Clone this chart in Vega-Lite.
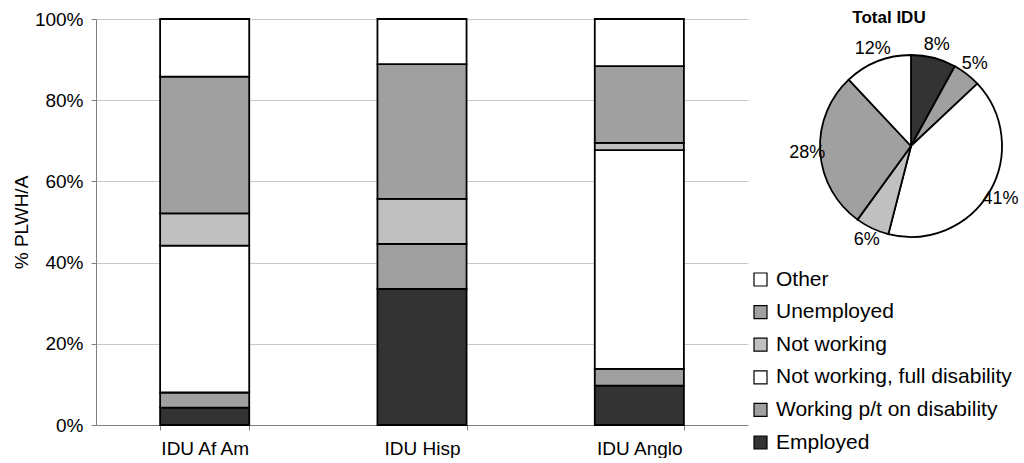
{
  "$schema": "https://vega.github.io/schema/vega-lite/v6.json",
  "padding": {"left": 12, "top": 9, "right": 0, "bottom": 0},
  "spacing": 41,
  "background": "white",
  "config": {
    "view": {"stroke": null},
    "font": "Liberation Sans",
    "axis": {"labelFont": "Liberation Sans", "titleFont": "Liberation Sans", "labelColor": "black", "titleColor": "black", "labelFontSize": 19, "titleFontSize": 19, "titleFontWeight": "normal"}
  },
  "datasets": {
    "bars": [
      {"group": "IDU Af Am", "status": "Employed", "seq": 1, "value": 4.3},
      {"group": "IDU Af Am", "status": "Working p/t on disability", "seq": 2, "value": 3.7},
      {"group": "IDU Af Am", "status": "Not working, full disability", "seq": 3, "value": 36.2},
      {"group": "IDU Af Am", "status": "Not working", "seq": 4, "value": 7.9},
      {"group": "IDU Af Am", "status": "Unemployed", "seq": 5, "value": 33.7},
      {"group": "IDU Af Am", "status": "Other", "seq": 6, "value": 14.2},
      {"group": "IDU Hisp", "status": "Employed", "seq": 1, "value": 33.5},
      {"group": "IDU Hisp", "status": "Working p/t on disability", "seq": 2, "value": 11.1},
      {"group": "IDU Hisp", "status": "Not working, full disability", "seq": 3, "value": 0},
      {"group": "IDU Hisp", "status": "Not working", "seq": 4, "value": 11.1},
      {"group": "IDU Hisp", "status": "Unemployed", "seq": 5, "value": 33.2},
      {"group": "IDU Hisp", "status": "Other", "seq": 6, "value": 11.1},
      {"group": "IDU Anglo", "status": "Employed", "seq": 1, "value": 9.7},
      {"group": "IDU Anglo", "status": "Working p/t on disability", "seq": 2, "value": 4.1},
      {"group": "IDU Anglo", "status": "Not working, full disability", "seq": 3, "value": 53.9},
      {"group": "IDU Anglo", "status": "Not working", "seq": 4, "value": 1.8},
      {"group": "IDU Anglo", "status": "Unemployed", "seq": 5, "value": 18.9},
      {"group": "IDU Anglo", "status": "Other", "seq": 6, "value": 11.6}
    ],
    "pie": [
      {"status": "Employed", "seq": 1, "share": 0.08},
      {"status": "Working p/t on disability", "seq": 2, "share": 0.05},
      {"status": "Not working, full disability", "seq": 3, "share": 0.41},
      {"status": "Not working", "seq": 4, "share": 0.06},
      {"status": "Unemployed", "seq": 5, "share": 0.28},
      {"status": "Other", "seq": 6, "share": 0.12}
    ]
  },
  "hconcat": [
    {
      "width": 652,
      "height": 406,
      "data": {"name": "bars"},
      "mark": {"type": "bar", "stroke": "black", "strokeWidth": 1.8},
      "encoding": {
        "x": {
          "field": "group", "type": "nominal",
          "sort": ["IDU Af Am", "IDU Hisp", "IDU Anglo"],
          "scale": {"paddingInner": 0.59, "paddingOuter": 0.295},
          "axis": {"title": null, "labelAngle": 0, "tickBand": "extent", "tickSize": 5, "tickColor": "#808080", "domainColor": "#808080", "labelPadding": 9}
        },
        "y": {
          "field": "value", "type": "quantitative", "stack": "normalize",
          "scale": {"domain": [0, 1]},
          "axis": {"title": "% PLWH/A", "format": ".0%", "values": [0, 0.2, 0.4, 0.6, 0.8, 1], "grid": true, "gridColor": "#c8c8c8", "tickSize": 5, "tickColor": "#808080", "domainColor": "#808080", "labelPadding": 8, "titlePadding": 3}
        },
        "order": {"field": "seq", "type": "quantitative"},
        "color": {
          "field": "status", "type": "nominal",
          "scale": {
            "domain": ["Other", "Unemployed", "Not working", "Not working, full disability", "Working p/t on disability", "Employed"],
            "range": ["#ffffff", "#a0a0a0", "#c0c0c0", "#ffffff", "#a0a0a0", "#333333"]
          },
          "legend": {
            "title": null, "orient": "none", "legendX": 654, "legendY": 250,
            "symbolType": "square", "symbolSize": 169, "symbolStrokeColor": "black", "symbolStrokeWidth": 1.2,
            "labelFontSize": 21, "labelFont": "Liberation Sans", "labelColor": "black", "labelLimit": 400,
            "rowPadding": 10.6, "labelOffset": 5
          }
        }
      }
    },
    {
      "width": 200,
      "height": 254,
      "data": {"name": "pie"},
      "title": {"text": "Total IDU", "fontSize": 17, "fontWeight": "bold", "font": "Liberation Sans", "color": "black", "offset": -8, "dx": -22},
      "encoding": {
        "theta": {"field": "share", "type": "quantitative", "stack": true},
        "order": {"field": "seq", "type": "quantitative"}
      },
      "layer": [
        {
          "mark": {"type": "arc", "outerRadius": 91, "stroke": "black", "strokeWidth": 1.8},
          "encoding": {
            "color": {"field": "status", "type": "nominal"}
          }
        },
        {
          "mark": {"type": "text", "radius": 104, "fontSize": 18, "font": "Liberation Sans", "color": "black"},
          "encoding": {
            "text": {"field": "share", "type": "quantitative", "format": ".0%"}
          }
        }
      ]
    }
  ]
}
